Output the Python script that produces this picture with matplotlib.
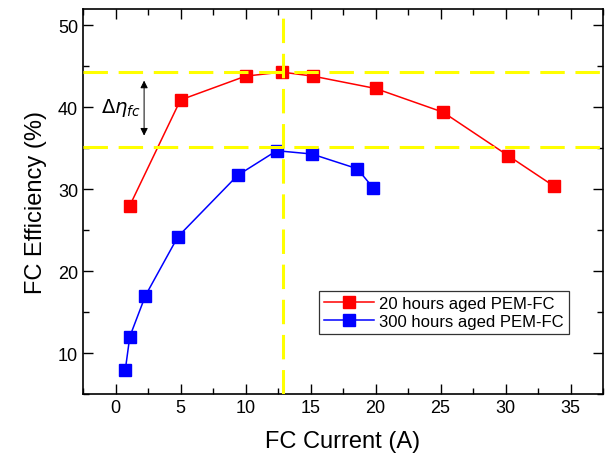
import matplotlib.pyplot as plt
from matplotlib.ticker import MultipleLocator

plt.rcParams['font.family'] = ['Liberation Sans', 'DejaVu Sans']

# 20 hours aged PEM-FC
current_20h = [1.1, 5.0, 10.0, 12.8, 15.2, 20.0, 25.2, 30.2, 33.7]
eff_20h = [28.0, 40.9, 43.8, 44.3, 43.8, 42.3, 39.4, 34.1, 30.4]

# 300 hours aged PEM-FC
current_300h = [0.75, 1.1, 2.3, 4.8, 9.4, 12.4, 15.1, 18.6, 19.8]
eff_300h = [7.9, 12.0, 17.0, 24.2, 31.7, 34.7, 34.3, 32.5, 30.2]

# reference lines
peak_20h = 44.25
peak_300h = 35.2
peak_current = 12.85

fig = plt.figure(figsize=(6.09, 4.60), dpi=100)
ax = fig.add_axes([83 / 609, 1 - 395 / 460, 520 / 609, 385 / 460])

ax.plot(current_20h, eff_20h, color='red', lw=1.1, marker='s', ms=8.5,
        mec='red', mfc='red', label='20 hours aged PEM-FC', zorder=3)
ax.plot(current_300h, eff_300h, color='blue', lw=1.1, marker='s', ms=8.5,
        mec='blue', mfc='blue', label='300 hours aged PEM-FC', zorder=3)

# yellow guide lines on top of the data
yellow = '#FFFF00'
dash = (0, (8, 3.5))
ax.axhline(peak_20h, color=yellow, lw=2.2, ls=dash, zorder=4)
ax.axhline(peak_300h, color=yellow, lw=2.2, ls=dash, zorder=4)
ax.axvline(peak_current, color=yellow, lw=2.2, ls=dash, zorder=4)

# delta eta arrow
ax.annotate('', xy=(2.2, 43.6), xytext=(2.2, 36.2),
            arrowprops=dict(arrowstyle='<|-|>', color='black', lw=0.7,
                            mutation_scale=11))
ax.text(0.4, 40.0, r'$\mathit{\Delta}\eta_{fc}$', fontsize=14,
        ha='center', va='center')

ax.set_xlim(-2.5, 37.5)
ax.set_ylim(5, 52)
ax.xaxis.set_major_locator(MultipleLocator(5))
ax.xaxis.set_minor_locator(MultipleLocator(2.5))
ax.yaxis.set_major_locator(MultipleLocator(10))
ax.yaxis.set_minor_locator(MultipleLocator(5))
ax.tick_params(which='both', direction='in', top=True, right=True,
               labelsize=13, width=1)
ax.tick_params(which='major', length=7)
ax.tick_params(which='minor', length=4)
for s in ax.spines.values():
    s.set_linewidth(1.2)

ax.set_xlabel('FC Current (A)', fontsize=17, labelpad=10)
ax.set_ylabel('FC Efficiency (%)', fontsize=17, labelpad=8)

leg = ax.legend(loc='lower right', bbox_to_anchor=(0.95, 0.135), fontsize=12,
                frameon=True, fancybox=False, edgecolor='black',
                handlelength=3.0, borderpad=0.3, labelspacing=0.15,
                handletextpad=0.3)
leg.get_frame().set_linewidth(0.9)

fig.savefig('out.png', dpi=100)
